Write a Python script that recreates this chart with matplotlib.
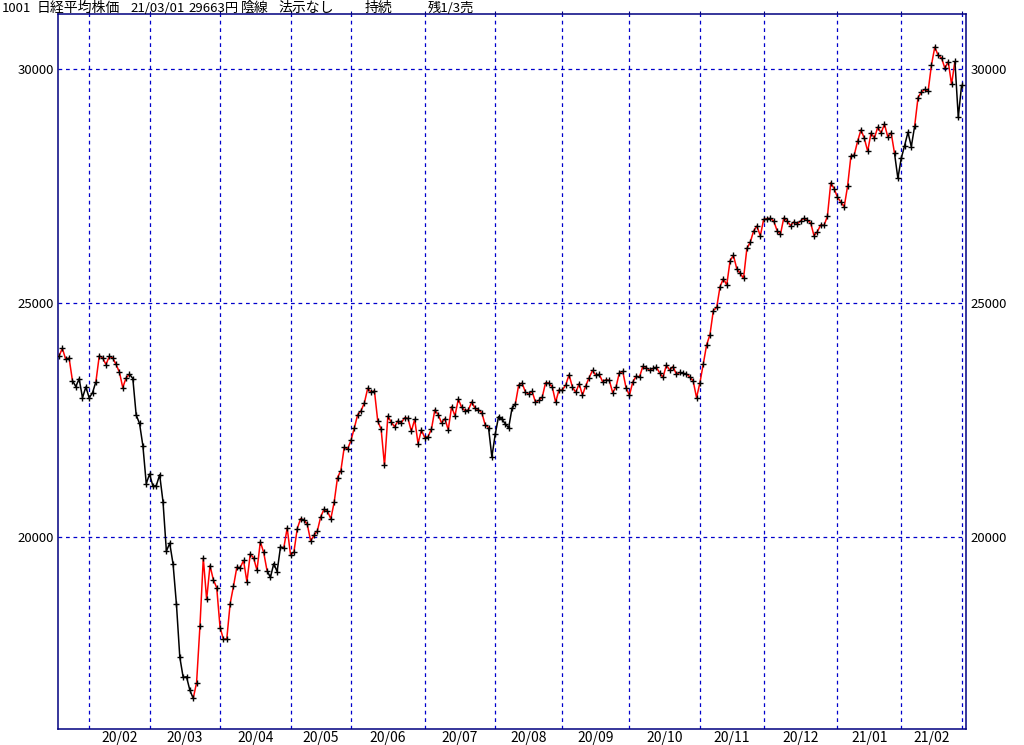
import numpy as np
import matplotlib
matplotlib.use('Agg')
import matplotlib.pyplot as plt
import matplotlib.transforms as mtransforms

# --- daily closes (trading days), 2020/01/21 .. 2021/03/01 ---
jan20 = [23864, 24031, 23795, 23827, 23343, 23215, 23379, 22977, 23205]
feb20 = [22971, 23084, 23319, 23873, 23827, 23685, 23861, 23827, 23687, 23523,
         23193, 23400, 23479, 23386, 22605, 22426, 21948, 21142]
mar20 = [21344, 21082, 21100, 21329, 20749, 19698, 19867, 19416, 18559, 17431,
         17002, 17011, 16726, 16552, 16887, 18092, 19546, 18665, 19389, 19084, 18917]
apr20 = [18065, 17818, 17820, 18576, 18950, 19353, 19345, 19498, 19043, 19638,
         19550, 19290, 19897, 19669, 19280, 19137, 19429, 19262, 19783, 19771, 20193]
may20 = [19619, 19674, 20179, 20390, 20366, 20267, 19914, 20037, 20133, 20433,
         20595, 20552, 20388, 20741, 21271, 21419, 21916, 21877]
jun20 = [22062, 22325, 22613, 22695, 22863, 23178, 23091, 23124, 22472, 22305,
         21530, 22582, 22455, 22355, 22478, 22437, 22549, 22534, 22260, 22512, 21995, 22288]
jul20 = [22122, 22146, 22306, 22714, 22614, 22439, 22529, 22291, 22784, 22587,
         22945, 22770, 22696, 22717, 22884, 22751, 22715, 22657, 22397, 22339, 21710]
aug20 = [22195, 22573, 22514, 22418, 22329, 22750, 22843, 23249, 23289, 23096,
         23051, 23110, 22880, 22920, 22985, 23296, 23290, 23208, 22882, 23140]
sep20 = [23138, 23247, 23465, 23205, 23089, 23274, 23032, 23235, 23406, 23559,
         23454, 23475, 23319, 23360, 23346, 23087, 23204, 23511, 23539, 23185]
oct20 = [23029, 23312, 23433, 23422, 23647, 23620, 23558, 23601, 23626, 23507,
         23411, 23671, 23567, 23640, 23474, 23517, 23495, 23485, 23419, 23331, 22977]
nov20 = [23295, 23695, 24105, 24325, 24839, 24905, 25350, 25520, 25385, 25907,
         26015, 25728, 25634, 25527, 26165, 26297, 26537, 26645, 26434]
dec20 = [26787, 26801, 26809, 26751, 26547, 26467, 26817, 26756, 26653, 26733,
         26688, 26757, 26807, 26763, 26715, 26437, 26524, 26668, 26657, 26854, 27568, 27444]
jan21 = [27258, 27158, 27056, 27490, 28139, 28164, 28457, 28698, 28519, 28242,
         28633, 28523, 28757, 28631, 28822, 28547, 28635, 28198, 27663]
feb21 = [28092, 28362, 28647, 28341, 28780, 29389, 29506, 29563, 29520, 30084,
         30468, 30292, 30237, 30018, 30156, 29672, 30168, 28966]
mar21 = [29663]

months = [jan20, feb20, mar20, apr20, may20, jun20, jul20, aug20, sep20,
          oct20, nov20, dec20, jan21, feb21, mar21]
month_labels = ["20/02", "20/03", "20/04", "20/05", "20/06", "20/07", "20/08",
                "20/09", "20/10", "20/11", "20/12", "21/01", "21/02"]

# trend signal per segment as runs: (1 = red, 0 = black, length)
signal_runs = [(1, 4), (0, 7), (1, 10), (0, 19), (1, 22), (0, 5), (1, 61),
               (0, 8), (1, 113), (0, 6), (1, 12), (0, 2)]

yticks = [20000, 25000, 30000]

# header pieces: (text, left px, font size)
title_parts = [("1001", 2, 9.5), ("日経平均株価", 37, 10), ("21/03/01", 130, 9.5),
               ("29663円", 188, 9.5), ("陰線", 241, 10), ("法示なし", 278, 10),
               ("持続", 365, 10), ("残1/3売", 428, 9.5)]

# --- style ---
NAVY = '#000080'
GRID = '#0000cc'
FONT = ['Noto Sans CJK JP', 'DejaVu Sans']

closes = np.concatenate([np.array(m, dtype=float) for m in months])
x = np.arange(len(closes))
counts = [len(m) for m in months]
starts = np.cumsum([0] + counts)[1:-1]          # first trading day of each month
mids = [(starts[i] + (starts[i + 1] if i + 1 < len(starts) else starts[i] + 22)) / 2
        for i in range(len(month_labels))]

W, H = 1024, 745
fig = plt.figure(figsize=(W / 100, H / 100), dpi=100)
fig.patch.set_facecolor('white')
L, R, T, B = 58, 966, 14, 729
ax = fig.add_axes([L / W, 1 - B / H, (R - L) / W, (B - T) / H])

# segments coloured by signal
pos = 0
for state, n in signal_runs:
    ax.plot(x[pos:pos + n + 1], closes[pos:pos + n + 1],
            color='#ff0000' if state else 'black', lw=1.1, zorder=3,
            solid_capstyle='butt')
    pos += n
ax.plot(x, closes, ls='none', marker='+', ms=3.8, mew=1.0, color='black', zorder=4)

# grid
for s in starts:
    ax.axvline(s, color=GRID, lw=0.9, dashes=(3, 3), zorder=1)
for yv in yticks:
    ax.axhline(yv, color=GRID, lw=0.9, dashes=(3, 3), zorder=1)

ax.set_xlim(-0.3, 270.3)
ax.set_ylim(15897, 31175)

for sp in ax.spines.values():
    sp.set_color(NAVY)
    sp.set_linewidth(1.1)

ax.set_yticks(yticks)
ax.set_yticklabels([str(v) for v in yticks], family=FONT, fontsize=9.5)
ax.tick_params(axis='y', left=True, right=True, labelleft=True, labelright=True,
               length=0, pad=3)

ax.set_xticks(list(starts))
ax.set_xticklabels([])
ax.tick_params(axis='x', bottom=False, top=True, direction='out', length=2.2,
               color=NAVY, width=0.8)

blend = mtransforms.blended_transform_factory(ax.transData, fig.transFigure)
for lbl, m in zip(month_labels, mids):
    ax.text(m, 1 - 742 / H, lbl, transform=blend, ha='center', va='baseline',
            fontsize=10, family=FONT, clip_on=False)

for txt, px, fs in title_parts:
    fig.text(px / W, 1 - 12 / H, txt, ha='left', va='baseline', fontsize=fs,
             family=FONT)

fig.savefig('out.png', dpi=100)
